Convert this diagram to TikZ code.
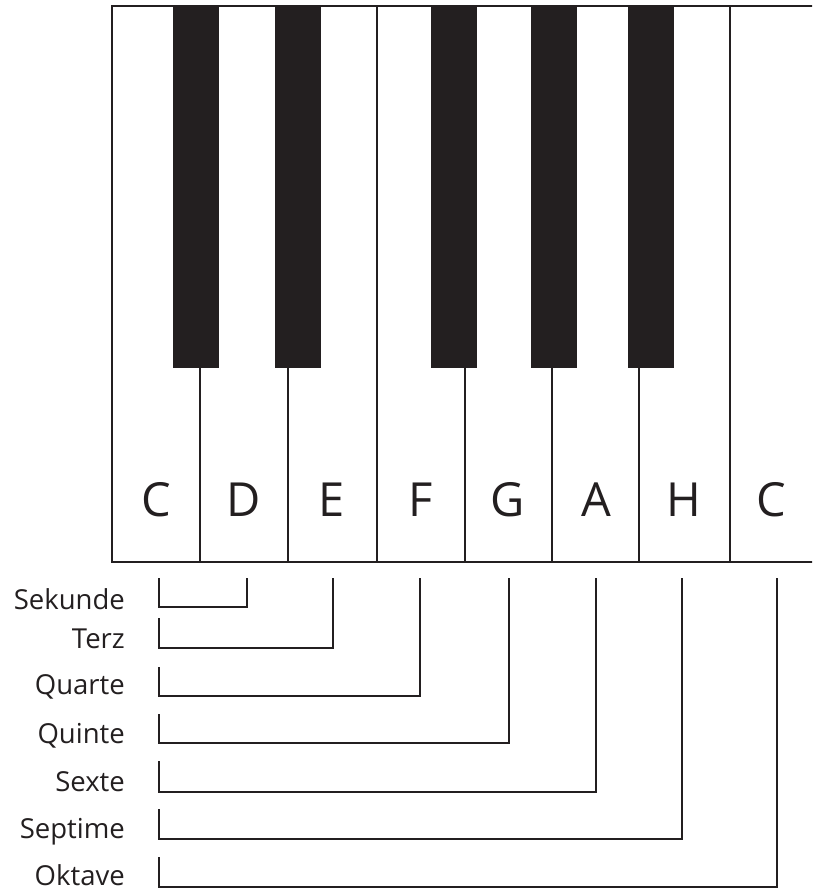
\documentclass[tikz,border=0pt]{standalone}
\usepackage{fontspec}
\setmainfont{Open Sans}
\definecolor{ink}{HTML}{231F20}
\begin{document}
\begin{tikzpicture}[x=1pt,y=-1pt,
  keyline/.style={draw=ink,line width=2.3pt},
  blackkey/.style={fill=ink,draw=none},
  keylabel/.style={text=ink,font=\fontsize{47}{50}\selectfont,inner sep=0pt,anchor=base},
  intlabel/.style={text=ink,font=\fontsize{27.5}{30}\selectfont,inner sep=0pt,anchor=base east},
  bracket/.style={draw=ink,line width=1.9pt}]
\useasboundingbox (0,0) rectangle (812,890);
\clip (0,0) rectangle (812,890);
% white keys outline
\draw[keyline] (820,6) -- (112,6) -- (112,562) -- (820,562);
% black keys
\foreach \a/\b in {173/219,275/321,431/477,531/577,628/674}
  \path[blackkey] (\a,5) rectangle (\b,368);
% dividers
\foreach \x in {200,288,465,552,639}
  \draw[keyline] (\x,368) -- (\x,562);
\foreach \x in {377,730}
  \draw[keyline] (\x,6) -- (\x,562);
% key letters
\node[keylabel] (kC) at (156,516) {C};
\node[keylabel] (kD) at (244,516) {D};
\node[keylabel] (kE) at (332,516) {E};
\node[keylabel] (kF) at (421,516) {F};
\node[keylabel] (kG) at (508,516) {G};
\node[keylabel] (kA) at (596,516) {A};
\node[keylabel] (kH) at (684,516) {H};
\node[keylabel] (kC2) at (771,516) {C};
% interval labels
\node[intlabel] (l2) at (125,609) {Sekunde};
\node[intlabel] (l3) at (125,648) {Terz};
\node[intlabel] (l4) at (125,694) {Quarte};
\node[intlabel] (l5) at (125,743) {Quinte};
\node[intlabel] (l6) at (125,791) {Sexte};
\node[intlabel] (l7) at (125,838) {Septime};
\node[intlabel] (l8) at (125,885) {Oktave};
% bracket coordinates
\coordinate (s2) at (159,578); \coordinate (e2) at (247,578); \coordinate (y2) at (0,607);
\coordinate (s3) at (159,618); \coordinate (e3) at (333,578); \coordinate (y3) at (0,648);
\coordinate (s4) at (159,667); \coordinate (e4) at (420,578); \coordinate (y4) at (0,696);
\coordinate (s5) at (159,714); \coordinate (e5) at (509,578); \coordinate (y5) at (0,743);
\coordinate (s6) at (159,761); \coordinate (e6) at (596,578); \coordinate (y6) at (0,792);
\coordinate (s7) at (159,809); \coordinate (e7) at (682,578); \coordinate (y7) at (0,839);
\coordinate (s8) at (159,857); \coordinate (e8) at (777,578); \coordinate (y8) at (0,887);
\foreach \i in {2,...,8}
  \draw[bracket] (s\i) -- (s\i |- y\i) -- (e\i |- y\i) -- (e\i);
\end{tikzpicture}
\end{document}
